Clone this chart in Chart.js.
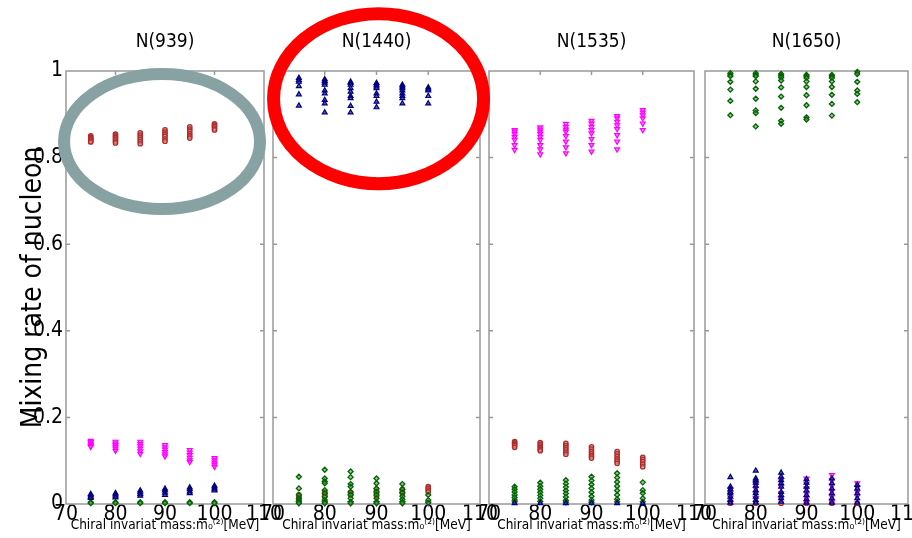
<!DOCTYPE html>
<html>
<head>
<meta charset="UTF-8">
<title>Mixing rate of nucleon</title>
<script src="https://cdn.jsdelivr.net/npm/chart.js@4.4.0/dist/chart.umd.min.js"></script>
<style>
    html, body { margin: 0; padding: 0; background: #fff; overflow: hidden; }
    #wrap { position: relative; width: 912px; height: 538px; }
    #wrap canvas { position: absolute; top: 0; }
</style>
</head>
<body>
<div id="wrap">
    <canvas id="c0" width="290" height="538" style="left:0px"></canvas>
    <canvas id="c1" width="263" height="538" style="left:243px; z-index:2"></canvas>
    <canvas id="c2" width="261" height="538" style="left:459px"></canvas>
    <canvas id="c3" width="259" height="538" style="left:675px"></canvas>
</div>
<script>
// chiral invariant mass m0^(2) [MeV] : one list of values per mass
var masses = [75, 80, 85, 90, 95, 100];
var panelTitles = ['N(939)', 'N(1440)', 'N(1535)', 'N(1650)'];
var xTicks = [70, 80, 90, 100, 110];
var yTicks = [0, 0.2, 0.4, 0.6, 0.8, 1];

// N(939)
var n939_circ = [[.850,.847,.844,.841,.838,.836],[.854,.850,.846,.842,.838,.834],[.857,.852,.847,.842,.837,.832],
                 [.864,.859,.854,.849,.843,.838],[.871,.866,.861,.855,.850,.845],[.878,.875,.872,.868,.864]];
var n939_down = [[.146,.143,.140,.137,.134,.132],[.144,.140,.136,.132,.128,.123],[.144,.139,.134,.128,.122,.116],
                 [.136,.131,.126,.120,.115,.110],[.125,.119,.113,.107,.101,.097],[.106,.101,.096,.091,.086]];
var n939_tri  = [[.023,.020,.017,.014],[.025,.022,.018,.015],[.031,.027,.023,.019],
                 [.035,.031,.026,.021],[.038,.034,.029,.025],[.042,.038,.034,.031]];
var n939_diam = [[.004,.002],[.004,.002],[.004,.002],[.004,.002],[.004,.002],[.004,.002]];

// N(1440)
var n1440_tri  = [[.984,.979,.975,.965,.946,.920],[.981,.977,.973,.968,.955,.948,.933,.925,.904],
                  [.975,.972,.968,.960,.952,.942,.937,.919,.904],[.972,.968,.964,.960,.948,.942,.929,.916],
                  [.968,.964,.960,.955,.948,.942,.937,.925],[.962,.958,.955,.942,.925]];
var n1440_diam = [[.063,.036,.021,.013,.009,.005,.002],[.079,.059,.052,.048,.032,.025,.017,.009,.005,.002],
                  [.075,.062,.046,.040,.028,.021,.013,.005,.002],[.059,.048,.036,.028,.021,.013,.005,.002],
                  [.046,.034,.026,.018,.011,.005,.002],[.021,.009,.003]];
var n1440_circ = [[.021,.017,.014],[.028,.024,.021,.017],[.027,.024,.021],
                  [.034,.029,.025,.018],[.034,.029,.025],[.040,.036,.032,.028]];
var n1440_down = [[.002],[.002],[.002],[.002],[.002],[.002]];

// N(1535)
var n1535_down = [[.864,.860,.855,.848,.841,.829,.818],[.870,.865,.860,.855,.848,.841,.829,.819,.808],
                  [.878,.871,.865,.860,.850,.837,.824,.810],[.885,.879,.871,.864,.856,.843,.829,.814],
                  [.896,.891,.883,.875,.866,.852,.837,.819],[.910,.904,.898,.891,.879,.864]];
var n1535_circ = [[.144,.141,.138,.135,.131],[.142,.138,.134,.130,.126,.123],[.140,.135,.130,.125,.120,.115],
                  [.132,.127,.121,.116,.111,.106],[.121,.116,.110,.104,.099,.094],[.108,.103,.098,.092,.086]];
var n1535_diam = [[.040,.034,.028,.021,.015,.009,.005],[.049,.041,.034,.027,.020,.013,.006],
                  [.055,.047,.039,.031,.024,.016,.008,.004],[.063,.054,.045,.036,.027,.018,.009,.004],
                  [.071,.061,.051,.041,.031,.021,.011,.005],[.050,.032,.025,.013,.005]];
var n1535_tri  = [[.002],[.002],[.002],[.002],[.002],[.002]];

// N(1650)
var n1650_diam = [[.995,.991,.988,.975,.957,.931,.898],[.995,.991,.988,.976,.959,.936,.909,.903,.872],
                  [.993,.989,.985,.978,.962,.941,.915,.885,.878],[.991,.988,.984,.976,.963,.944,.921,.893,.888],
                  [.991,.988,.984,.976,.963,.945,.924,.897],[.998,.993,.975,.955,.947,.928]];
var n1650_tri  = [[.062,.040,.034,.028,.025,.017,.009,.003],[.077,.059,.055,.049,.042,.032,.025,.017,.009,.003],
                  [.072,.063,.055,.048,.040,.028,.021,.013,.005],[.057,.049,.040,.031,.021,.011,.003],
                  [.059,.048,.036,.025,.013,.003],[.044,.036,.025,.013,.003]];
var n1650_down = [[.034,.025,.015,.005],[.046,.035,.025,.014],[.055,.040,.025,.012],
                  [.059,.047,.036,.025,.013,.004],[.067,.055,.042,.030,.017,.005],[.048,.038,.028,.018]];
var n1650_circ = [[.002],[.002],[.002],[.002],[.002],[.002]];

var panelSeries = [
    {tri: n939_tri,  diam: n939_diam,  down: n939_down,  circ: n939_circ},
    {tri: n1440_tri, diam: n1440_diam, down: n1440_down, circ: n1440_circ},
    {tri: n1535_tri, diam: n1535_diam, down: n1535_down, circ: n1535_circ},
    {tri: n1650_tri, diam: n1650_diam, down: n1650_down, circ: n1650_circ}
];

// ---- styles / layout ----
var FONT = "'Liberation Sans Narrow', 'DejaVu Sans Condensed', 'Liberation Sans', sans-serif";
var marker = {
    tri:  {pointStyle: 'triangle', pointRadius: 2.8, pointBorderWidth: 1.2, pointBorderColor: '#00007f', pointBackgroundColor: 'rgba(40,40,150,0.75)'},
    diam: {pointStyle: 'rectRot',  pointRadius: 2.5, pointBorderWidth: 1.3, pointBorderColor: '#006400', pointBackgroundColor: 'rgba(90,160,90,0.6)'},
    down: {pointStyle: 'triangle', pointRotation: 180, pointRadius: 2.8, pointBorderWidth: 1.2, pointBorderColor: '#ff00ff', pointBackgroundColor: 'rgba(255,90,255,0.7)'},
    circ: {pointStyle: 'circle',   pointRadius: 2.2, pointBorderWidth: 1.3, pointBorderColor: '#b02a2a', pointBackgroundColor: 'rgba(220,140,140,0.7)'}
};
var padLeft = [0, 30, 30, 30];
var rings = [
    {x: 89.4, y: 0.837, rx: 98, ry: 67.5, width: 12, color: '#88a2a3'},
    {x: 90.4, y: 0.936, rx: 105, ry: 85, width: 13, color: '#ff0000'},
    null, null
];

function toPoints(groups) {
    var out = [];
    groups.forEach(function(g, i) {
        g.forEach(function(v) { out.push({x: masses[i], y: v}); });
    });
    return out;
}

var framePlugin = {
    id: 'frame',
    beforeDatasetsDraw: function(chart) {
        var ctx = chart.ctx, a = chart.chartArea, sx = chart.scales.x, sy = chart.scales.y;
        ctx.save();
        ctx.strokeStyle = '#999';
        ctx.lineWidth = 1.5;
        ctx.strokeRect(a.left, a.top, a.right - a.left, a.bottom - a.top);
        ctx.beginPath();
        xTicks.slice(1, -1).forEach(function(v) {
            var px = sx.getPixelForValue(v);
            ctx.moveTo(px, a.bottom); ctx.lineTo(px, a.bottom - 4);
            ctx.moveTo(px, a.top);    ctx.lineTo(px, a.top + 4);
        });
        yTicks.slice(1, -1).forEach(function(v) {
            var py = sy.getPixelForValue(v);
            ctx.moveTo(a.left, py);  ctx.lineTo(a.left + 4, py);
            ctx.moveTo(a.right, py); ctx.lineTo(a.right - 4, py);
        });
        ctx.stroke();
        ctx.restore();
    },
    afterDraw: function(chart, args, opts) {
        var r = opts.ring;
        if (!r) return;
        var ctx = chart.ctx;
        ctx.save();
        ctx.beginPath();
        ctx.ellipse(chart.scales.x.getPixelForValue(r.x), chart.scales.y.getPixelForValue(r.y), r.rx, r.ry, 0, 0, 2 * Math.PI);
        ctx.lineWidth = r.width;
        ctx.strokeStyle = r.color;
        ctx.stroke();
        ctx.restore();
    }
};

panelTitles.forEach(function(title, p) {
    var series = panelSeries[p];
    var datasets = ['tri', 'diam', 'down', 'circ'].map(function(k) {
        return Object.assign({label: k, data: toPoints(series[k]), clip: false}, marker[k]);
    });
    var first = (p === 0);
    new Chart(document.getElementById('c' + p), {
        type: 'scatter',
        data: {datasets: datasets},
        options: {
            responsive: false,
            animation: false,
            events: [],
            layout: {padding: {left: padLeft[p], right: 26, top: 0, bottom: 0}},
            plugins: {
                legend: {display: false},
                tooltip: {enabled: false},
                title: {
                    display: true, text: title, fullSize: false, color: '#000',
                    font: {family: FONT, size: 19, weight: 'normal', lineHeight: 1.2},
                    padding: {top: 30.6, bottom: 17.6}
                },
                frame: {ring: rings[p]}
            },
            scales: {
                x: {
                    type: 'linear', min: 70, max: 110,
                    afterFit: function(s) { s.height = 34; },
                    grid: {display: false, drawTicks: false},
                    border: {display: false},
                    ticks: {stepSize: 10, autoSkip: false, maxRotation: 0, padding: 0, color: '#000',
                            font: {family: FONT, size: 21, lineHeight: 1}},
                    title: {display: true, text: 'Chiral invariat mass:m\u2080\u207D\u00B2\u207E[MeV]', color: '#000',
                            font: {family: FONT, size: 13.5, lineHeight: 1.2}, padding: {top: 0, bottom: 4}}
                },
                y: {
                    type: 'linear', min: 0, max: 1,
                    afterFit: function(s) { s.width = first ? 66 : 0; },
                    grid: {display: false, drawTicks: false},
                    border: {display: false},
                    ticks: {display: first, stepSize: 0.2, padding: 3, color: '#000',
                            font: {family: FONT, size: 21, lineHeight: 1},
                            callback: function(v) { return String(Number(v.toFixed(1))); }},
                    title: {display: first, text: 'Mixing rate of nucleon', color: '#000',
                            font: {family: FONT, size: 28, lineHeight: 1.2}, padding: {top: 17, bottom: 0}}
                }
            }
        },
        plugins: [framePlugin]
    });
});
</script>
</body>
</html>
